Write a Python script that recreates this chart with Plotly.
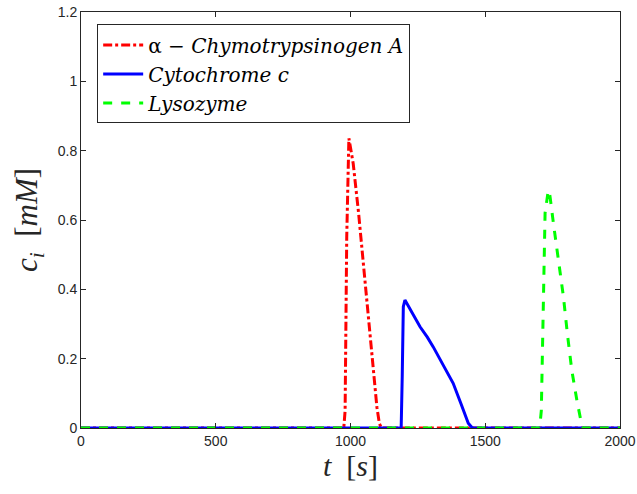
import plotly.graph_objects as go

# Series data (time in s, concentration in mM)
t_chymo = [0, 975, 980, 986, 994, 998, 1010, 1030, 1048, 1066, 1085, 1098, 1107, 1115, 2000]
c_chymo = [0, 0, 0.05, 0.55, 0.836, 0.82, 0.763, 0.62, 0.475, 0.32, 0.158, 0.06, 0.0135, 0, 0]

t_cyto = [0, 1188, 1192, 1196, 1202, 1230, 1258, 1285, 1307, 1345, 1381, 1410, 1437, 1450, 1456, 2000]
c_cyto = [0, 0, 0.15, 0.35, 0.369, 0.33, 0.292, 0.262, 0.234, 0.18, 0.129, 0.07, 0.0135, 0.002, 0, 0]

t_lyso = [0, 1702, 1708, 1714, 1722, 1734, 1740, 1753, 1772, 1790, 1805, 1821, 1840, 1858, 1864, 2000]
c_lyso = [0, 0, 0.05, 0.35, 0.62, 0.686, 0.67, 0.59, 0.485, 0.379, 0.27, 0.167, 0.08, 0.0087, 0, 0]

names = ["α − <i>Chymotrypsinogen A</i>", "<i>Cytochrome c</i>", "<i>Lysozyme</i>"]
x_ticks = [0, 500, 1000, 1500, 2000]
y_ticks = [0, 0.2, 0.4, 0.6, 0.8, 1.0, 1.2]

fig = go.Figure()
fig.add_trace(go.Scatter(x=t_chymo, y=c_chymo, mode="lines", name=names[0],
                         line=dict(color="#ff0000", width=3, dash="dashdot")))
fig.add_trace(go.Scatter(x=t_cyto, y=c_cyto, mode="lines", name=names[1],
                         line=dict(color="#0000ff", width=3, dash="solid")))
fig.add_trace(go.Scatter(x=t_lyso, y=c_lyso, mode="lines", name=names[2],
                         line=dict(color="#00ff00", width=3, dash="dash")))

axis_common = dict(showgrid=False, zeroline=False, showline=True, mirror="ticks",
                   linecolor="#262626", linewidth=1, ticks="inside", ticklen=5,
                   tickcolor="#262626", automargin=False,
                   tickfont=dict(family="Liberation Sans, Arial", size=14, color="#262626"))

fig.update_layout(
    width=637, height=494,
    margin=dict(l=81, r=17, t=12, b=66),
    paper_bgcolor="white", plot_bgcolor="white",
    xaxis=dict(range=[0, 2000], tickvals=x_ticks,
               title=dict(text="<i>t</i>&nbsp; [<i>s</i>]", standoff=4,
                          font=dict(family="Liberation Serif, DejaVu Serif", size=30, color="#262626")),
               **axis_common),
    yaxis=dict(range=[0, 1.2], tickvals=y_ticks, ticktext=["0", "0.2", "0.4", "0.6", "0.8", "1", "1.2"],
               title=dict(text="<i>c<sub>i</sub></i>&nbsp; [<i>mM</i>]", standoff=10,
                          font=dict(family="Liberation Serif, DejaVu Serif", size=31, color="#262626")),
               **axis_common),
    legend=dict(x=0.03, y=0.97, xanchor="left", yanchor="top",
                bgcolor="white", bordercolor="#262626", borderwidth=1,
                font=dict(family="DejaVu Serif", size=20, color="black"),
                tracegroupgap=0, itemwidth=40),
    showlegend=True,
)

fig.write_html("out.html")
